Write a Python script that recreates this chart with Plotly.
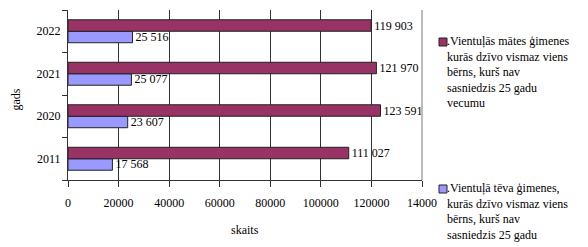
import plotly.graph_objects as go

years = ["2011", "2020", "2021", "2022"]
mothers = [111027, 123591, 121970, 119903]
fathers = [17568, 23607, 25077, 25516]
x_tickvals = [0, 20000, 40000, 60000, 80000, 100000, 120000, 140000]
x_ticktext = ["0", "20000", "40000", "60000", "80000", "100000", "120000", "14000"]
mothers_name = ".Vientuļās mātes ģimenes<br>kurās dzīvo vismaz viens<br>bērns, kurš nav<br>sasniedzis 25 gadu<br>vecumu"
fathers_name = ".Vientuļā tēva ģimenes,<br>kurās dzīvo vismaz viens<br>bērns, kurš nav<br>sasniedzis 25 gadu<br>vecumu"
x_title = "skaits"
y_title = "gads"

MAROON = "#993366"
BLUE = "#9999ff"
FONT = "Times New Roman, Liberation Serif, serif"

def fmt(v):
    return f"{v:,}".replace(",", " ")

fig = go.Figure()
fig.add_trace(go.Bar(
    y=years, x=fathers, orientation="h", name=fathers_name,
    marker=dict(color=BLUE, line=dict(color="#222", width=1)),
    text=[fmt(v) for v in fathers], textposition="outside",
    textfont=dict(family=FONT, size=12, color="black"), cliponaxis=False,
))
fig.add_trace(go.Bar(
    y=years, x=mothers, orientation="h", name=mothers_name,
    marker=dict(color=MAROON, line=dict(color="#222", width=1)),
    text=[fmt(v) for v in mothers], textposition="outside",
    textfont=dict(family=FONT, size=12, color="black"), cliponaxis=False,
))

L, R, T, B = 68, 166, 10, 67
W, H = 588, 247
pw = W - L - R
ph = H - T - B

def px(x):
    return (x - L) / pw

def py(y):
    return (H - B - y) / ph

fig.update_layout(
    width=W, height=H, margin=dict(l=L, r=R, t=T, b=B, autoexpand=False),
    paper_bgcolor="white", plot_bgcolor="white",
    barmode="group", bargap=0.46, bargroupgap=0,
    showlegend=False,
    font=dict(family=FONT, size=12, color="black"),
    uniformtext=dict(mode="show", minsize=12),
    xaxis=dict(range=[0, 140000], tickvals=x_tickvals, ticktext=x_ticktext,
               showgrid=True, gridcolor="#333", gridwidth=1,
               showline=True, linecolor="#333", linewidth=1,
               ticks="outside", ticklen=6, tickcolor="#333",
               ticklabelstandoff=6, zeroline=False, automargin=False,
               tickfont=dict(family=FONT, size=12, color="black")),
    yaxis=dict(type="category", categoryorder="array", categoryarray=years,
               showgrid=False, showline=True, linecolor="#333", linewidth=1,
               ticks="outside", ticklen=5, tickcolor="#333", tickson="boundaries",
               ticklabelstandoff=4, automargin=False,
               tickfont=dict(family=FONT, size=12, color="black")),
)

# right border of plot area
fig.add_shape(type="line", xref="paper", yref="paper", x0=1, x1=1, y0=0, y1=1,
              line=dict(color="#bbbbbb", width=2))

# axis titles
fig.add_annotation(text=x_title, xref="paper", yref="paper", x=px(245.5), y=py(230),
                   xanchor="center", yanchor="middle", showarrow=False,
                   font=dict(family=FONT, size=12))
fig.add_annotation(text=y_title, xref="paper", yref="paper", x=px(15.5), y=py(100),
                   xanchor="center", yanchor="middle", showarrow=False, textangle=-90,
                   font=dict(family=FONT, size=12))

# legend
for name, color, top in [(mothers_name, MAROON, 38), (fathers_name, BLUE, 185)]:
    fig.add_shape(type="rect", xref="paper", yref="paper",
                  x0=px(439), x1=px(447), y0=py(top), y1=py(top + 8),
                  fillcolor=color, line=dict(color="#222", width=1))
    fig.add_annotation(text=name, xref="paper", yref="paper", x=px(446), y=py(top - 5),
                       xanchor="left", yanchor="top", align="left", showarrow=False,
                       font=dict(family=FONT, size=12), borderpad=0)

fig.write_html("out.html", config={"displayModeBar": False},
               post_script="document.body.style.margin='0';document.body.style.overflow='hidden';")
